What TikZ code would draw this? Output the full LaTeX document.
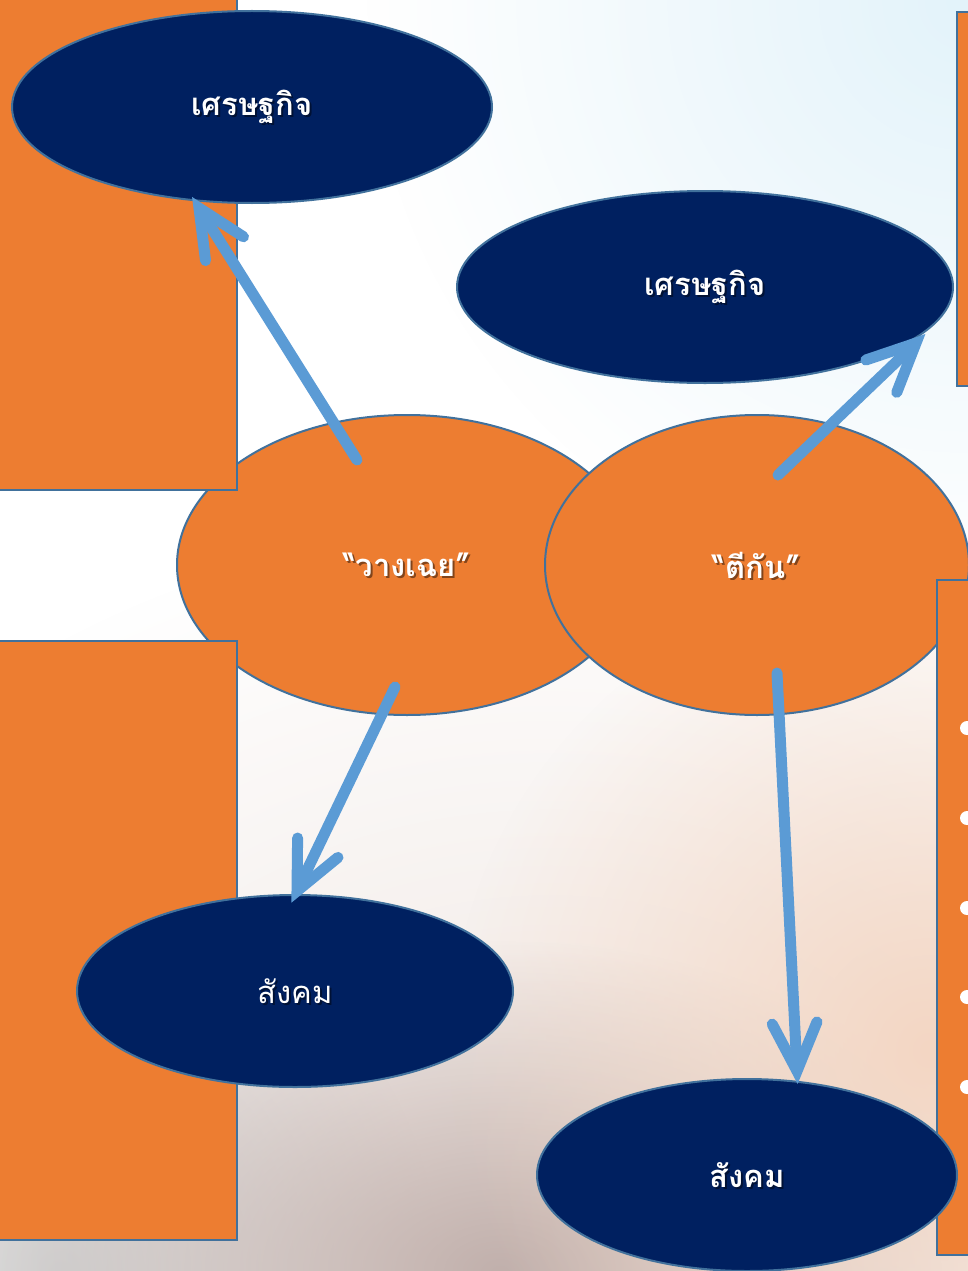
\documentclass[tikz,border=0pt]{standalone}
\usepackage{fontspec}
\newfontfamily\thaifont[Script=Thai]{Loma}
\usetikzlibrary{shapes.geometric,calc,fadings}
\definecolor{orng}{HTML}{ED7D31}
\definecolor{navy}{HTML}{002060}
\definecolor{edge}{HTML}{41719C}
\definecolor{arw}{HTML}{5B9BD5}
\definecolor{bgblue}{HTML}{E3F3FA}
\definecolor{bgpeach}{HTML}{F3D6C3}
\definecolor{bgbrown}{HTML}{C1B0AC}
\definecolor{bggray}{HTML}{D2D2D2}
\definecolor{bgmid}{HTML}{EFE5E0}
\tikzfading[name=softcirc, inner color=transparent!0, outer color=transparent!100]
\tikzset{
  box/.style={fill=orng, draw=edge, line width=2pt},
  oval/.style={ellipse, draw=edge, line width=2pt, inner sep=0pt},
  navyoval/.style={oval, fill=navy},
  orngoval/.style={oval, fill=orng},
  lbl/.style={text=white, font=\thaifont\bfseries\fontsize{31}{37}\selectfont},
  lblreg/.style={text=white, font=\thaifont\fontsize{31}{37}\selectfont},
  shad/.style={text=black, opacity=0.45},
  arrowline/.style={draw=arw, line width=11pt, line cap=round, line join=miter},
  bullet/.style={circle, fill=white, inner sep=0pt, minimum size=14pt}
}
\begin{document}
\begin{tikzpicture}[x=1pt,y=-1pt]
\useasboundingbox (0,0) rectangle (968,1271);
\clip (0,0) rectangle (968,1271);
% background
\fill[white] (0,0) rectangle (968,1271);
\fill[bgmid, path fading=softcirc] (550,1271) ellipse (900 and 750);
\fill[bgblue, path fading=softcirc] (968,0) circle (600);
\fill[bggray, path fading=softcirc] (60,1271) circle (380);
\fill[bgbrown, path fading=softcirc] (500,1271) ellipse (520 and 330);
\fill[bgpeach, path fading=softcirc] (930,1050) circle (480);

% left orange ellipse under left boxes
\node[orngoval, minimum width=460pt, minimum height=300pt] (o1) at (407,565) {};
\path[box] (-10,-10) rectangle (237,490);
\path[box] (-10,641) rectangle (237,1240);
% right orange ellipse under right boxes
\node[orngoval, minimum width=424pt, minimum height=300pt] (o2) at (757,565) {};
\path[box] (957,12) rectangle (990,386);
\path[box] (937,580) rectangle (990,1255);

% navy ellipses
\node[navyoval, minimum width=480pt, minimum height=192pt] (e1) at (252,107) {};
\node[navyoval, minimum width=496pt, minimum height=192pt] (e2) at (705,287) {};
\node[navyoval, minimum width=436pt, minimum height=192pt] (s1) at (295,991) {};
\node[navyoval, minimum width=420pt, minimum height=192pt] (s2) at (747,1175) {};

% labels with shadows
\node[lbl, shad] (e1ts) at ($(e1.center)+(2,2)$) {เศรษฐกิจ};
\node[lbl] (e1t) at (e1.center) {เศรษฐกิจ};
\node[lbl, shad] (e2ts) at ($(e2.center)+(2,2)$) {เศรษฐกิจ};
\node[lbl] (e2t) at (e2.center) {เศรษฐกิจ};
\node[lbl, shad] (o1ts) at ($(o1.center)+(2,2)$) {“วางเฉย”};
\node[lbl] (o1t) at (o1.center) {“วางเฉย”};
\node[lbl, shad] (o2ts) at ($(o2.center)+(2,2)$) {“ตีกัน”};
\node[lbl] (o2t) at (o2.center) {“ตีกัน”};
\node[lblreg, shad] (s1ts) at ($(s1.center)+(2,2)$) {สังคม};
\node[lblreg] (s1t) at (s1.center) {สังคม};
\node[lbl, shad] (s2ts) at ($(s2.center)+(2,2)$) {สังคม};
\node[lbl] (s2t) at (s2.center) {สังคม};

% bullets
\foreach \yy/\nm in {728/b1,818/b2,908/b3,997/b4,1087/b5}
  \node[bullet] (\nm) at (967,\yy) {};

% arrows
\coordinate (a1t) at (357,460); \coordinate (a1h) at (199,208);
\coordinate (a2t) at (778,475); \coordinate (a2h) at (916,343);
\coordinate (a3t) at (395,687); \coordinate (a3h) at (297,891);
\coordinate (a4t) at (777,673); \coordinate (a4h) at (797,1071);
\foreach \k in {1,2,3,4}{
  \draw[arrowline] (a\k t) -- ($(a\k h)!8pt!(a\k t)$);
  \draw[arrowline] ($(a\k h)!53pt!25:(a\k t)$) -- (a\k h) -- ($(a\k h)!53pt!-25:(a\k t)$);
}
\end{tikzpicture}
\end{document}
